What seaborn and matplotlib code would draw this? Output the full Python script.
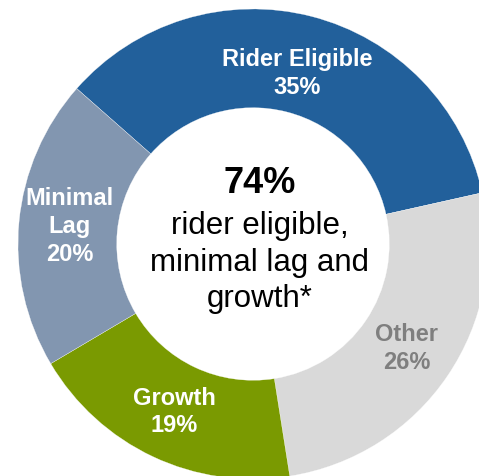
import numpy as np
import matplotlib.pyplot as plt
import seaborn as sns

# data
labels = ["Rider Eligible", "Other", "Growth", "Minimal\nLag"]
shares = [35, 26, 19, 20]
colors = ["#22609B", "#D9D9D9", "#7A9A01", "#8296B0"]
label_colors = ["white", "#7F7F7F", "white", "white"]
center_value = "74%"
center_text = "rider eligible,\nminimal lag and\ngrowth*"

sns.set_theme(style="white")
plt.rcParams["font.family"] = ["Liberation Sans", "DejaVu Sans"]

fig = plt.figure(figsize=(4.79, 4.76), dpi=100)
ax = fig.add_axes([0, 0, 1, 1])

# pie centre / radius in pixel units (image is cropped on the right/bottom)
cx, cy, R = 253, 232, 235
start = 138.6

wedges, _ = ax.pie(shares, colors=colors, startangle=start, counterclock=False,
                   center=(cx, cy), radius=R,
                   wedgeprops=dict(width=R * 0.42, edgecolor="white", linewidth=0.2))

# segment labels at the middle of each wedge
label_r = [0.75, 0.79, 0.79, 0.785]
for w, lab, val, tc, lr in zip(wedges, labels, shares, label_colors, label_r):
    ang = np.deg2rad((w.theta1 + w.theta2) / 2)
    x = cx + R * lr * np.cos(ang)
    y = cy + R * lr * np.sin(ang)
    ax.text(x, y, f"{lab}\n{val}%", ha="center", va="center", color=tc,
            fontsize=17, fontweight="bold", linespacing=1.27)

# centre text
ax.text(cx + 7, cy + 51, center_value, ha="center", va="baseline",
        fontsize=26, fontweight="bold", color="black")
ax.text(cx + 7, cy - 63, center_text, ha="center", va="baseline",
        fontsize=22.5, color="black", linespacing=1.28)

ax.set_xlim(0, 479)
ax.set_ylim(0, 476)
ax.set_aspect("auto")
ax.axis("off")

fig.savefig("out.png", dpi=100)
